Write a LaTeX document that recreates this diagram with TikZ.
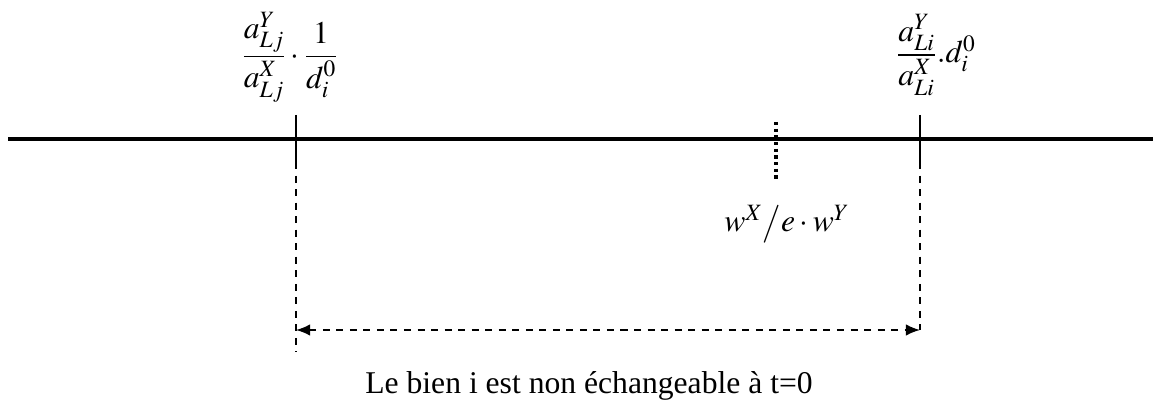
\documentclass[tikz,border=0pt]{standalone}
\usepackage{amsmath}
\usepackage{mathptmx}
\usepackage[no-math]{fontspec}
\setmainfont{Liberation Serif}
\usepackage{tikz}
\usetikzlibrary{arrows.meta}

\newcommand{\numsp}{\rule[-3pt]{0pt}{0pt}}
\newcommand{\densp}{\rule{0pt}{15pt}}

\begin{document}
\begin{tikzpicture}[
        axe/.style={line width=2pt},
        tick/.style={line width=1.2pt},
        guide/.style={line width=0.9pt, dash pattern=on 4pt off 3.7pt},
        seuil/.style={line width=1.8pt, dash pattern=on 1.8pt off 2pt},
        lbl/.style={font=\fontsize{18}{22}\selectfont, inner sep=0pt},
        fleche/.style={guide, {Latex[length=8pt,width=6.5pt]}-{Latex[length=8pt,width=6.5pt]}},
    ]
        \useasboundingbox (0,0) rectangle (23.06,8);

        % Axe
        \coordinate (axeG) at (0.16,5.22);
        \coordinate (axeD) at (23.06,5.22);
        \draw[axe] (axeG) -- (axeD);

        % Bornes j et i
        \coordinate (tj1) at (5.92,5.70);
        \coordinate (tj2) at (5.92,4.76);
        \coordinate (tj3) at (5.92,0.96);
        \coordinate (ti1) at (18.40,5.70);
        \coordinate (ti2) at (18.40,4.76);
        \coordinate (fj) at (5.92,1.40);
        \coordinate (fi) at (18.40,1.40);

        \draw[tick] (tj1) -- (tj2);
        \draw[tick] (ti1) -- (ti2);
        \draw[guide] (tj2) -- (tj3);
        \draw[guide] (ti2) -- (fi);
        \draw[fleche] (fj) -- (fi);

        % Salaire relatif
        \coordinate (s1) at (15.52,5.56);
        \coordinate (s2) at (15.52,4.36);
        \draw[seuil] (s1) -- (s2);

        \node[lbl] (lj) at (5.80,6.86)
            {$\dfrac{a^{Y}_{Lj}\numsp}{\densp a^{X}_{Lj}}\cdot\dfrac{1\numsp}{\densp d^{0}_{i}}$};
        \node[lbl] (li) at (18.72,6.90)
            {$\dfrac{a^{Y}_{Li}\numsp}{\densp a^{X}_{Li}}.d^{0}_{i}$};
        \node[lbl] (w) at (15.74,3.52) {$w^{X}\big/ e\cdot w^{Y}$};

        \node[lbl, anchor=base] (legende) at (11.78,0.12)
            {Le bien i est non échangeable à t=0};
    \end{tikzpicture}
\end{document}
